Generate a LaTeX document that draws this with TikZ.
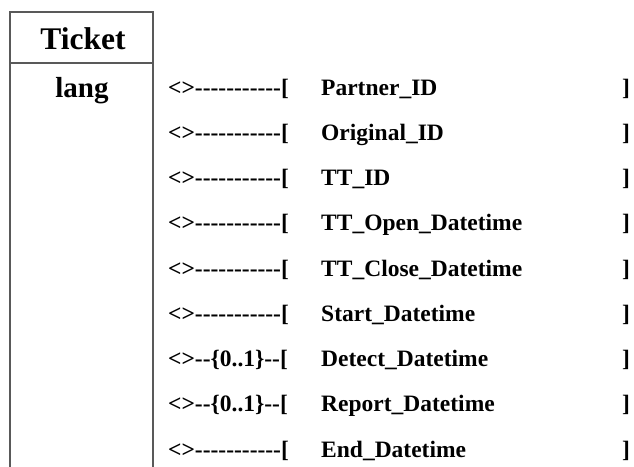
\documentclass[tikz,border=0pt]{standalone}
\usepackage{fontspec}
\newfontfamily\tnr{Liberation Serif}
\tikzset{
  frame/.style={draw=black!65, line width=1.4pt},
  rowtext/.style={anchor=base west, inner sep=0pt, font=\tnr\bfseries\fontsize{23.5}{23.5}\selectfont},
  attr/.style={rowtext},
  link/.style={rowtext},
  closer/.style={rowtext},
}
\begin{document}
\begin{tikzpicture}[x=1pt,y=-1pt]
  \useasboundingbox (0,0) rectangle (634,466);
  % class box: title compartment and open attribute column
  \draw[frame] (10,467) -- (10,12) -- (153,12) -- (153,467);
  \draw[frame] (10,63) -- (153,63);
  \node[anchor=base, inner sep=0pt, font=\tnr\bfseries\fontsize{31.5}{31.5}\selectfont] (title) at (83,49) {Ticket};
  \node[anchor=base, inner sep=0pt, font=\tnr\bfseries\fontsize{29}{29}\selectfont] (lang) at (82,97) {lang};
  % attribute rows
  \foreach \i/\mult/\name in {
      0/-----------/Partner\_ID,
      1/-----------/Original\_ID,
      2/-----------/TT\_ID,
      3/-----------/TT\_Open\_Datetime,
      4/-----------/TT\_Close\_Datetime,
      5/-----------/Start\_Datetime,
      6/--\{0..1\}--/Detect\_Datetime,
      7/--\{0..1\}--/Report\_Datetime,
      8/-----------/End\_Datetime} {
    \pgfmathsetmacro{\yy}{95+45.25*\i}
    \node[link] (l\i) at (168,\yy) {<>\mult[};
    \node[attr] (a\i) at (321,\yy) {\name};
    \node[closer] (c\i) at (622,\yy) {]};
  }
\end{tikzpicture}
\end{document}
